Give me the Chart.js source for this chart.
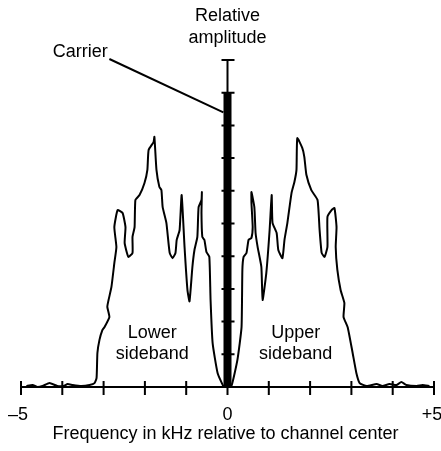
<!DOCTYPE html>
<html>
<head>
<meta charset="utf-8">
<script src="https://cdn.jsdelivr.net/npm/chart.js@4"></script>
<style>
  body { margin: 0; background: #fff; }
  canvas { display: block; }
</style>
</head>
<body>
<canvas id="spectrumChart" width="441" height="451"></canvas>
<script>
// Espectro de una señal AM: frecuencia (kHz) y amplitud relativa
const freqs = [
    -4.87, -4.72, -4.60, -4.48, -4.31, -4.12, -3.97, -3.87, -3.75, -3.54, -3.34, -3.22,
    -3.17, -3.15, -3.10, -3.03, -2.98, -2.86, -2.91, -2.88, -2.81, -2.74, -2.69, -2.74,
    -2.66, -2.54, -2.47, -2.49, -2.40, -2.30, -2.30, -2.25, -2.23, -2.13, -2.01, -1.94,
    -1.91, -1.79, -1.77, -1.72, -1.65, -1.60, -1.57, -1.48, -1.40, -1.33, -1.26, -1.23,
    -1.16, -1.11, -1.04, -0.97, -0.92, -0.85, -0.80, -0.73, -0.70, -0.63, -0.62, -0.63,
    -0.61, -0.56, -0.51, -0.44, -0.41, -0.36, -0.24, -0.10, 0,
    0.10, 0.24, 0.34, 0.36, 0.39, 0.46, 0.51, 0.58, 0.61, 0.58, 0.58, 0.65,
    0.68, 0.73, 0.82, 0.85, 0.94, 1.02, 1.07, 1.09, 1.19, 1.23, 1.33, 1.38,
    1.45, 1.55, 1.62, 1.67, 1.69, 1.81, 1.86, 1.91, 2.03, 2.18, 2.23, 2.28,
    2.35, 2.42, 2.42, 2.52, 2.59, 2.64, 2.62, 2.66, 2.74, 2.83, 2.81, 2.91,
    3.03, 3.12, 3.20, 3.37, 3.61, 3.75, 3.92, 4.09, 4.21, 4.33, 4.58, 4.72, 4.89
];
const amps = [
    0.03, 0.06, 0.00, 0.03, 0.12, 0.03, 0.03, 0.09, 0.06, 0.03, 0.06, 0.12,
    0.28, 1.04, 1.44, 1.74, 1.83, 2.14, 2.45, 2.66, 3.06, 3.79, 4.28, 4.89,
    5.41, 5.32, 4.89, 4.40, 3.98, 4.10, 4.59, 4.89, 5.72, 5.87, 6.24, 6.64,
    7.25, 7.49, 7.65, 6.64, 6.12, 6.02, 5.50, 5.02, 4.10, 3.94, 4.10, 4.50,
    4.80, 5.87, 4.28, 2.97, 2.62, 3.67, 4.19, 4.59, 5.50, 5.72, 5.96, 5.32,
    4.59, 4.50, 4.13, 3.98, 2.66, 1.34, 0.43, 0.03, 0,
    0.05, 0.83, 1.83, 3.58, 3.98, 4.10, 4.50, 4.56, 4.89, 5.63, 5.96, 5.50,
    4.71, 4.28, 3.67, 2.66, 3.49, 4.80, 5.87, 5.02, 4.71, 4.19, 3.94, 4.50,
    5.02, 5.93, 6.27, 6.64, 7.61, 7.31, 7.04, 6.49, 6.02, 5.72, 4.80, 4.10,
    3.98, 4.28, 5.20, 5.41, 5.47, 4.89, 4.28, 3.58, 2.96, 2.57, 2.14, 1.83,
    1.04, 0.43, 0.12, 0.03, 0.09, 0.03, 0.09, 0.06, 0.15, 0.06, 0.03, 0.06, 0.03
];

const carrierFreq = [0, 0];
const carrierAmp = [0, 9];

const xTicks = [-5, -4, -3, -2, -1, 0, 1, 2, 3, 4, 5];
const xTickLabels = { '-5': '\u20135', '0': '0', '5': '+5' };
const yTicks = [1, 2, 3, 4, 5, 6, 7, 8, 9, 10];

const FONT = '18px "Liberation Sans", Arial, sans-serif';

// Ejes cruzados dibujados con las escalas del gráfico
const crossAxes = {
    id: 'crossAxes',
    beforeDatasetsDraw(chart) {
        const { ctx, scales: { x, y } } = chart;
        const x0 = x.getPixelForValue(0);
        const yBase = y.getPixelForValue(0);
        ctx.save();
        ctx.strokeStyle = '#000';
        ctx.lineWidth = 2;
        ctx.beginPath();
        ctx.moveTo(x.getPixelForValue(-5), yBase);
        ctx.lineTo(x.getPixelForValue(5), yBase);
        ctx.moveTo(x0, y.getPixelForValue(10));
        ctx.lineTo(x0, yBase);
        xTicks.forEach(v => {
            const px = x.getPixelForValue(v);
            ctx.moveTo(px, yBase - 6);
            ctx.lineTo(px, yBase + 8);
        });
        yTicks.forEach(v => {
            const py = y.getPixelForValue(v);
            ctx.moveTo(x0 - 6, py);
            ctx.lineTo(x0 + 7, py);
        });
        ctx.stroke();
        ctx.restore();
    },
    afterDatasetsDraw(chart) {
        const { ctx, scales: { x, y } } = chart;
        const x0 = x.getPixelForValue(0);
        const yBase = y.getPixelForValue(0);
        ctx.save();
        ctx.fillStyle = '#000';
        ctx.font = FONT;
        ctx.textAlign = 'center';
        ctx.textBaseline = 'middle';

        Object.keys(xTickLabels).forEach(k => {
            let px = x.getPixelForValue(Number(k));
            if (k === '-5') px -= 3;
            if (k === '5') px -= 2;
            ctx.fillText(xTickLabels[k], px, yBase + 28);
        });
        ctx.fillText('Frequency in kHz relative to channel center', x0 - 2, yBase + 47);

        ctx.fillText('Relative', x0, 16);
        ctx.fillText('amplitude', x0, 38);

        ctx.fillText('Lower', x.getPixelForValue(-1.82), y.getPixelForValue(1.65));
        ctx.fillText('sideband', x.getPixelForValue(-1.82), y.getPixelForValue(1.0));
        ctx.fillText('Upper', x.getPixelForValue(1.65), y.getPixelForValue(1.65));
        ctx.fillText('sideband', x.getPixelForValue(1.65), y.getPixelForValue(1.0));

        ctx.textAlign = 'right';
        ctx.fillText('Carrier', x.getPixelForValue(-2.9), 52);
        ctx.strokeStyle = '#000';
        ctx.lineWidth = 2;
        ctx.beginPath();
        ctx.moveTo(x.getPixelForValue(-2.86), 59);
        ctx.lineTo(x.getPixelForValue(-0.1), y.getPixelForValue(8.4));
        ctx.stroke();
        ctx.restore();
    }
};

window.addEventListener('DOMContentLoaded', () => {
    const ctx = document.getElementById('spectrumChart').getContext('2d');
    new Chart(ctx, {
        type: 'line',
        data: {
            datasets: [
                {
                    label: 'Spectrum',
                    data: freqs.map((f, i) => ({ x: f, y: amps[i] })),
                    borderColor: '#000',
                    borderWidth: 2,
                    pointRadius: 0,
                    tension: 0.15,
                    fill: false,
                    clip: false
                },
                {
                    label: 'Carrier',
                    data: carrierFreq.map((f, i) => ({ x: f, y: carrierAmp[i] })),
                    borderColor: '#000',
                    borderWidth: 8,
                    borderCapStyle: 'butt',
                    pointRadius: 0,
                    fill: false,
                    clip: false
                }
            ]
        },
        options: {
            responsive: false,
            animation: false,
            layout: { padding: { left: 21, right: 7, top: 60, bottom: 64 } },
            plugins: { legend: { display: false }, tooltip: { enabled: false } },
            scales: {
                x: { type: 'linear', min: -5, max: 5, display: false },
                y: { type: 'linear', min: 0, max: 10, display: false }
            }
        },
        plugins: [crossAxes]
    });
});
</script>
</body>
</html>
